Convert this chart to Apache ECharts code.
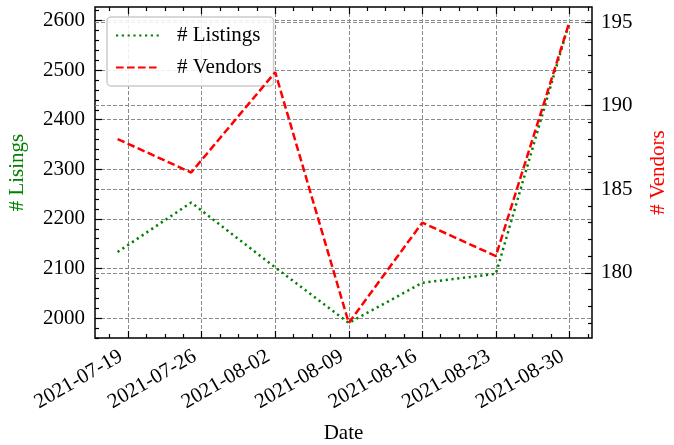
<!DOCTYPE html>
<html>
<head>
<meta charset="utf-8">
<script src="https://cdn.jsdelivr.net/npm/echarts@6/dist/echarts.min.js"></script>
<style>html,body{margin:0;padding:0;background:#fff}#c{width:674px;height:445px}</style>
</head>
<body>
<div id="c"></div>
<script>
const dates = ['2021-07-18','2021-07-25','2021-08-02','2021-08-09','2021-08-16','2021-08-23','2021-08-30'];
const listings = [2133, 2233, 2102, 1990, 2071, 2089, 2597];
const vendors = [188, 186, 192, 177, 183, 181, 195];
const xTickLabels = ['2021-07-19','2021-07-26','2021-08-02','2021-08-09','2021-08-16','2021-08-23','2021-08-30'];
const leftTicks = [2000, 2100, 2200, 2300, 2400, 2500, 2600];
const rightTicks = [180, 185, 190, 195];

const DAY = 86400000;
const ts = s => { const p = s.split('-').map(Number); return Date.UTC(p[0], p[1]-1, p[2]); };
const fmt = v => { const d = new Date(v); const m = d.getUTCMonth()+1, dd = d.getUTCDate();
  return d.getUTCFullYear() + '-' + (m<10?'0':'') + m + '-' + (dd<10?'0':'') + dd; };
const xs = dates.map(ts);
const xTicks = xTickLabels.map(ts);
const xMinor = [];
for (let i = -1; i < xTicks.length; i++) {
  const base = i < 0 ? xTicks[0] - 7*DAY : xTicks[i];
  for (let k = 1; k < 4; k++) xMinor.push(base + k*7*DAY/4);
}
function pad(arr){ const lo=Math.min(...arr), hi=Math.max(...arr), m=(hi-lo)*0.05; return [lo-m, hi+m]; }
const [xMin, xMax] = pad(xs);
const [lMin, lMax] = pad(listings);
const [rMin, rMax] = pad(vendors);
const minorOf = (ticks, step, n, lo, hi) => { const out=[]; const first=ticks[0]-step;
  for (let v=first; v<=ticks[ticks.length-1]+step; v+=step) for (let k=1;k<n;k++){ const w=v+k*step/n; if(w>lo&&w<hi) out.push(w);} return out; };
const lMinor = minorOf(leftTicks, 100, 5, lMin, lMax);
const rMinor = minorOf(rightTicks, 5, 5, rMin, rMax);

const FONT = 'Liberation Serif';
const FS = 21;
const black = '#000';
const gridLine = {show:true, lineStyle:{color:'#8a8a8a', width:1, type:[4,2]}};
function xAx(pos, ticks, len, opts){
  return Object.assign({type:'value', position:pos, min:xMin, max:xMax,
    axisLine:{show:false}, axisLabel:{show:false}, splitLine:{show:false},
    axisTick:{show:true, inside:true, length:len, customValues:ticks, lineStyle:{color:black,width:1.2}}}, opts||{});
}
function yAx(pos, lo, hi, ticks, len, opts){
  return Object.assign({type:'value', position:pos, min:lo, max:hi,
    axisLine:{show:false}, axisLabel:{show:false}, splitLine:{show:false},
    axisTick:{show:true, inside:true, length:len, customValues:ticks, lineStyle:{color:black,width:1.2}}}, opts||{});
}
const chart = echarts.init(document.getElementById('c'), null, {renderer:'canvas'});
chart.setOption({
  animation:false,
  backgroundColor:'#fff',
  grid:{left:95, right:82, top:7, bottom:107, outerBoundsMode:'none', containLabel:false,
    show:true, borderColor:black, borderWidth:1.5, backgroundColor:'transparent'},
  legend:{
    left:107, top:17, orient:'vertical', itemWidth:44, itemHeight:10, itemGap:11,
    padding:[8,12,8,8], backgroundColor:'rgba(255,255,255,0.85)', borderColor:'#cccccc', borderWidth:1.5, borderRadius:4,
    itemStyle:{opacity:0},
    textStyle:{fontFamily:FONT, fontSize:FS, color:black, padding:[0,0,0,12]},
    data:[{name:'# Listings'},{name:'# Vendors'}]
  },
  xAxis:[
    xAx('bottom', xTicks, 7, {
      name:'Date', nameLocation:'middle', nameGap:85,
      nameTextStyle:{fontFamily:FONT, fontSize:FS, color:black},
      splitLine:gridLine,
      axisLabel:{show:true, customValues:xTicks, rotate:30, margin:13, padding:[0,8,0,0], formatter:v=>fmt(v),
        fontFamily:FONT, fontSize:FS, color:black}
    }),
    xAx('bottom', xMinor, 4),
    xAx('top', xTicks, 7),
    xAx('top', xMinor, 4)
  ],
  yAxis:[
    yAx('left', lMin, lMax, leftTicks, 7, {
      name:'# Lisings', nameLocation:'middle', nameGap:67, nameRotate:90,
      nameTextStyle:{fontFamily:FONT, fontSize:FS, color:'#008000'},
      splitLine:gridLine,
      axisLabel:{show:true, customValues:leftTicks, margin:10, formatter:v=>String(v), fontFamily:FONT, fontSize:FS, color:black}
    }),
    yAx('left', lMin, lMax, lMinor, 4),
    yAx('right', rMin, rMax, rightTicks, 7, {
      name:'# Vendors', nameLocation:'middle', nameGap:56, nameRotate:90,
      nameTextStyle:{fontFamily:FONT, fontSize:FS, color:'#ff0000'},
      splitLine:gridLine,
      axisLabel:{show:true, customValues:rightTicks, margin:9, formatter:v=>String(v), fontFamily:FONT, fontSize:FS, color:black}
    }),
    yAx('right', rMin, rMax, rMinor, 4)
  ],
  series:[
    {name:'# Listings', type:'line', xAxisIndex:0, yAxisIndex:0, symbol:'none', z:3,
      data: xs.map((x,i)=>[x, listings[i]]),
      lineStyle:{color:'#008000', width:2.5, type:[2.2,3.6]}, itemStyle:{color:'#008000'}},
    {name:'# Vendors', type:'line', xAxisIndex:0, yAxisIndex:2, symbol:'none', z:4,
      data: xs.map((x,i)=>[x, vendors[i]]),
      lineStyle:{color:'#ff0000', width:2.5, type:[7.6,3.4]}, itemStyle:{color:'#ff0000'}}
  ]
});
</script>
</body>
</html>
